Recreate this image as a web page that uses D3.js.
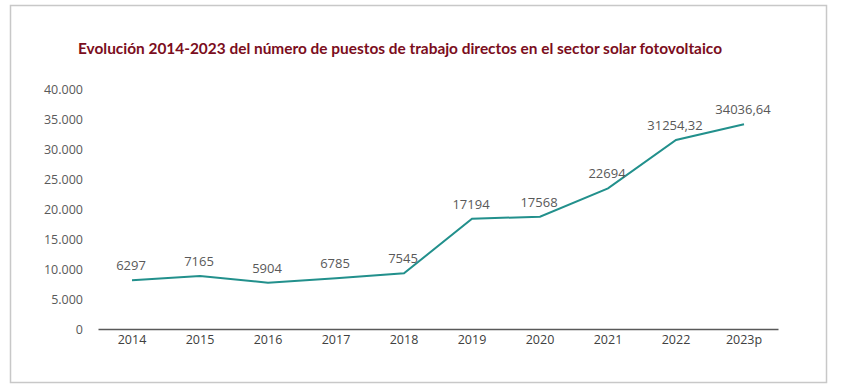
<!DOCTYPE html>
<html>
<head>
<meta charset="utf-8">
<script src="https://cdn.jsdelivr.net/npm/d3@7"></script>
<style>
  body { margin: 0; background: #fff; }
  svg { display: block; }
</style>
</head>
<body>
<svg width="841" height="389"></svg>
<script>
var years = ['2014', '2015', '2016', '2017', '2018', '2019', '2020', '2021', '2022', '2023p'];
// where the line is actually drawn in the picture
var lineValues = [8120, 8830, 7720, 8450, 9280, 18380, 18720, 23450, 31500, 34120];
// the data labels as printed
var labels = ['6297', '7165', '5904', '6785', '7545', '17194', '17568', '22694', '31254,32', '34036,64'];
var yTicks = [0, 5000, 10000, 15000, 20000, 25000, 30000, 35000, 40000];
var title = 'Evolución 2014-2023 del número de puestos de trabajo directos en el sector solar fotovoltaico';

var svg = d3.select('svg');
var plotLeft = 98, plotRight = 778, plotTop = 89, plotBottom = 329;

// frame
svg.append('rect')
  .attr('x', 10.5).attr('y', 5.5)
  .attr('width', 816).attr('height', 377)
  .attr('fill', 'none')
  .attr('stroke', '#c8c8c8')
  .attr('stroke-width', 1.5);

svg.append('text')
  .text(title)
  .attr('x', 78).attr('y', 54)
  .attr('textLength', 644)
  .attr('lengthAdjust', 'spacingAndGlyphs')
  .attr('font-family', 'Lato, "Open Sans", sans-serif')
  .attr('font-weight', 'bold')
  .attr('font-size', 14.5)
  .attr('fill', '#7b0d20');

var x = d3.scaleBand().domain(years).range([plotLeft, plotRight]);
var y = d3.scaleLinear().domain([0, 40000]).range([plotBottom, plotTop]);

var fmt = d3.formatLocale({ decimal: ',', thousands: '.', grouping: [3], currency: ['', ''] }).format(',');

// y labels (no axis line)
svg.selectAll('.labelY')
  .data(yTicks)
  .enter().append('text')
    .attr('class', 'labelY')
    .text(function(d) { return fmt(d); })
    .attr('text-anchor', 'end')
    .attr('dominant-baseline', 'central')
    .attr('x', 83)
    .attr('y', function(d) { return y(d); })
    .attr('font-family', '"Open Sans", sans-serif')
    .attr('font-size', 12.5)
    .attr('fill', '#595959');

// x axis
var xAxis = svg.append('g')
  .attr('transform', 'translate(0,' + plotBottom + ')')
  .call(d3.axisBottom(x).tickSize(0).tickPadding(6));
xAxis.select('.domain').attr('stroke', '#595959').attr('stroke-width', 1.3);
xAxis.selectAll('text')
  .attr('font-family', '"Open Sans", sans-serif')
  .attr('font-size', 12.5)
  .attr('fill', '#404040');

var cx = function(i) { return x(years[i]) + x.bandwidth() / 2; };

var line = d3.line()
  .x(function(d, i) { return cx(i); })
  .y(function(d) { return y(d); });

svg.append('path')
  .datum(lineValues)
  .attr('d', line)
  .attr('fill', 'none')
  .attr('stroke', '#22908c')
  .attr('stroke-width', 2);

svg.selectAll('.pointLabel')
  .data(lineValues)
  .enter().append('text')
    .attr('class', 'pointLabel')
    .text(function(d, i) { return labels[i]; })
    .attr('text-anchor', 'middle')
    .attr('x', function(d, i) { return cx(i) - 1; })
    .attr('y', function(d) { return y(d) - 10; })
    .attr('font-family', '"Open Sans", sans-serif')
    .attr('font-size', 13)
    .attr('fill', '#595959');
</script>
</body>
</html>
